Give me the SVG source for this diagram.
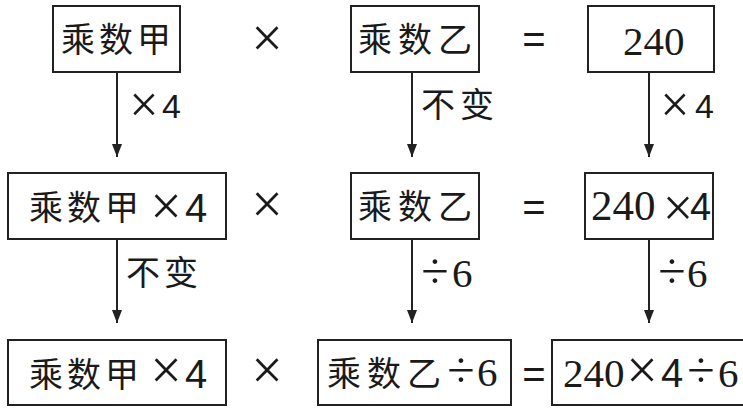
<svg xmlns="http://www.w3.org/2000/svg" width="743" height="412" viewBox="0 0 743 412">
<style>
.box{fill:#fff;stroke:#222;stroke-width:2}
.cn{font-family:"Noto Sans CJK SC","Noto Sans",sans-serif;font-size:34px;fill:#1a1a1a}
.t{font-family:"Liberation Sans",sans-serif;fill:#1a1a1a}
.num{font-family:"Liberation Serif",serif;font-size:41px}
.x{font-family:"Liberation Serif",serif;font-size:56px;text-anchor:middle}
.xs{font-family:"Liberation Serif",serif;font-size:52px;text-anchor:middle}
.d{font-family:"Liberation Serif",serif;font-size:50px;text-anchor:middle}
.eq{font-family:"Liberation Sans",sans-serif;font-size:40px;fill:#1a1a1a;text-anchor:middle}
.f{font-family:"Liberation Sans",sans-serif;font-size:34px}
.f2{font-family:"Liberation Sans",sans-serif;font-size:40px}
.conn line{stroke:#222;stroke-width:2}
</style>
<defs>
<marker id="arr" markerWidth="13" markerHeight="10" refX="13" refY="5" orient="auto" markerUnits="userSpaceOnUse" viewBox="0 0 13 10">
<path d="M0,0 L13,5 L0,10 Z" fill="#222"/>
</marker>
</defs>
<rect width="743" height="412" fill="#fff"/>

<g id="connectors" class="conn">
<line x1="117" y1="72" x2="117" y2="157" marker-end="url(#arr)"/>
<line x1="412" y1="72" x2="412" y2="157" marker-end="url(#arr)"/>
<line x1="649" y1="72" x2="649" y2="157" marker-end="url(#arr)"/>
<line x1="117" y1="239" x2="117" y2="323" marker-end="url(#arr)"/>
<line x1="412" y1="239" x2="412" y2="323" marker-end="url(#arr)"/>
<line x1="649" y1="239" x2="649" y2="323" marker-end="url(#arr)"/>
<text class="t"><tspan class="xs" x="144" y="122">×</tspan><tspan class="f" x="162" y="118">4</tspan></text>
<text class="cn" x="421" y="117" letter-spacing="5">不变</text>
<text class="t"><tspan class="xs" x="675" y="122">×</tspan><tspan class="f" x="695" y="118">4</tspan></text>
<text class="cn" x="126" y="285" letter-spacing="4">不变</text>
<text class="t"><tspan class="d" x="435" y="288">÷</tspan><tspan class="num" x="452" y="287">6</tspan></text>
<text class="t"><tspan class="d" x="672" y="288">÷</tspan><tspan class="num" x="687" y="287">6</tspan></text>
</g>

<g id="n-a1"><rect class="box" x="53" y="6" width="127" height="66"/>
<text class="cn" x="61" y="52" letter-spacing="4">乘数甲</text></g>
<g id="op-x1"><text class="t"><tspan class="x" x="267" y="56.5">×</tspan></text></g>
<g id="n-b1"><rect class="box" x="351" y="6" width="128" height="66"/>
<text class="cn" x="358" y="52" letter-spacing="6">乘数乙</text></g>
<g id="op-eq1"><text class="eq" x="534" y="53">=</text></g>
<g id="n-c1"><rect class="box" x="588" y="6" width="126" height="66"/>
<text class="t"><tspan class="num" x="623" y="55">240</tspan></text></g>

<g id="n-a2"><rect class="box" x="8" y="173" width="218" height="66"/>
<text class="cn" x="29" y="220" letter-spacing="4">乘数甲</text>
<text class="t"><tspan class="x" x="166" y="225">×</tspan><tspan class="f2" x="185" y="222">4</tspan></text></g>
<g id="op-x2"><text class="t"><tspan class="x" x="267" y="223">×</tspan></text></g>
<g id="n-b2"><rect class="box" x="351" y="173" width="128" height="66"/>
<text class="cn" x="358" y="219" letter-spacing="6">乘数乙</text></g>
<g id="op-eq2"><text class="eq" x="534" y="221">=</text></g>
<g id="n-c2"><rect class="box" x="585" y="173" width="128" height="66"/>
<text class="t"><tspan class="num" x="591" y="220" style="font-size:43px">240</tspan><tspan class="x" x="678" y="226" style="font-size:54px">×</tspan><tspan class="f2" x="690" y="220" style="font-size:38px">4</tspan></text></g>

<g id="n-a3"><rect class="box" x="8" y="340" width="218" height="65"/>
<text class="cn" x="29" y="387" letter-spacing="4">乘数甲</text>
<text class="t"><tspan class="x" x="166" y="389">×</tspan><tspan class="f2" x="185" y="388">4</tspan></text></g>
<g id="op-x3"><text class="t"><tspan class="x" x="267" y="389">×</tspan></text></g>
<g id="n-b3"><rect class="box" x="318" y="340" width="193" height="65"/>
<text class="cn" x="327" y="386" letter-spacing="6">乘数乙</text>
<text class="t"><tspan class="d" x="461" y="387">÷</tspan><tspan class="num" x="477" y="386">6</tspan></text></g>
<g id="op-eq3"><text class="eq" x="534" y="388">=</text></g>
<g id="n-c3"><rect class="box" x="552" y="340" width="196" height="65"/>
<text class="t"><tspan class="num" x="563" y="387">240</tspan><tspan class="x" x="642" y="389">×</tspan><tspan class="f2" x="661" y="387">4</tspan><tspan class="d" x="701" y="387">÷</tspan><tspan class="num" x="718" y="387">6</tspan></text></g>
</svg>
